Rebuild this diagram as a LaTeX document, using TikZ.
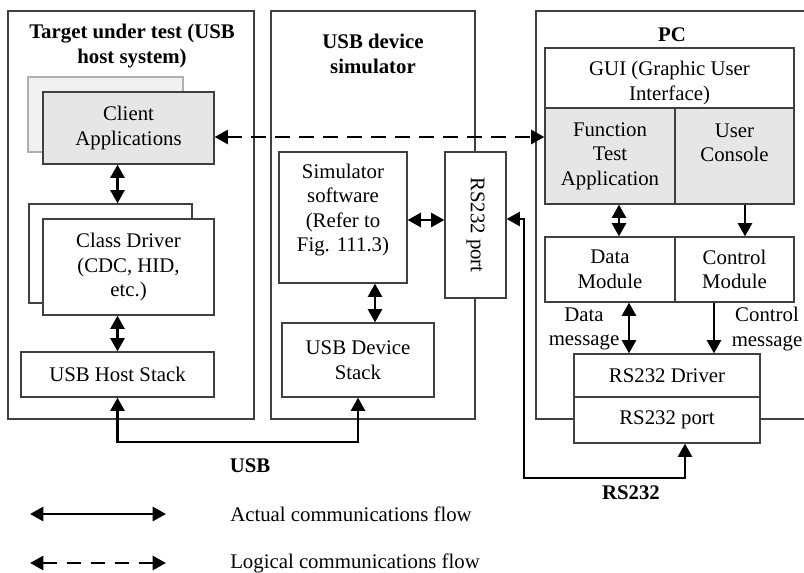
\documentclass[tikz,border=0pt]{standalone}
\usepackage{fontspec}
\setmainfont{Liberation Serif}
\usetikzlibrary{arrows.meta}
\definecolor{linegray}{HTML}{404040}
\definecolor{boxgray}{HTML}{E6E6E6}
\definecolor{shadowline}{HTML}{B0B0B0}
\definecolor{shadowfill}{HTML}{F1F1F1}
\begin{document}
\begin{tikzpicture}[x=0.75pt,y=-0.75pt,
 font=\fontsize{15.6}{18.4}\selectfont,
 corners/.style args={#1/#2/#3/#4}{minimum width={(#3-#1)*0.75pt}, minimum height={(#4-#2)*0.75pt}, at={({(#1+#3)/2},{(#2+#4)/2})}},
 frame/.style={draw=linegray, line width=0.9pt},
 box/.style={draw=linegray, line width=0.9pt, fill=white, inner sep=0pt, align=center},
 graybox/.style={box, fill=boxgray},
 shadowbox/.style={draw=shadowline, line width=0.9pt, fill=shadowfill, inner sep=0pt},
 lbl/.style={inner sep=0pt, align=center},
 title/.style={lbl, font=\fontsize{15.6}{18.4}\selectfont\bfseries},
 flow/.style={line width=2.1pt, draw=black, {Triangle[length=10pt,width=10.5pt]}-{Triangle[length=10pt,width=10.5pt]}},
 oneway/.style={line width=2.1pt, draw=black, -{Triangle[length=10pt,width=10.5pt]}},
 logical/.style={flow, dash pattern=on 11pt off 7pt},
]
\useasboundingbox (0,0) rectangle (804,572);

% containers
\node[box, fill=none, corners=8/11/254/419] (tgt) {};
\node[title] (tgtt) at (132,46) {Target under test (USB\\host system)};
\node[box, fill=none, corners=271/11/475/419] (simf) {};
\node[title] (simt) at (373,54) {USB device\\simulator};
\draw[frame] (804,11) -- (536,11) -- (536,419) -- (804,419);
\node[title] (pct) at (672,35) {PC};

% target
\node[shadowbox, corners=28/77/183/152] (cash) {};
\node[graybox, corners=43/92/214/164] (ca) {Client\\Applications};
\node[box, corners=29/204/192/303] (cdsh) {};
\node[box, corners=43/219/214/315] (cd) {Class Driver\\(CDC, HID,\\etc.)};
\node[box, corners=21/352/214/397] (hs) {USB Host Stack};

% simulator
\node[box, corners=279/152/407/283] (ss) {};
\node[lbl] (sstxt) at (343,210) {Simulator\\software\\(Refer to\\Fig. 111.3)};
\node[box, corners=445/152/506/298] (rsp) {};
\node[lbl, rotate=-90] (rsptxt) at (rsp.center) {RS232 port};
\node[box, corners=282/323/434/397] (uds) {USB Device\\Stack};

% PC
\node[box, corners=545/48/794/108] (gui) {};
\node[lbl] (guitxt) at (669.5,83) {GUI (Graphic User\\Interface)};
\node[graybox, corners=545/108/675/204] (fta) {Function\\Test\\Application};
\node[graybox, corners=675/108/794/204] (uc) {};
\node[lbl] (uctxt) at (734.5,143) {User\\Console};
\node[box, corners=545/237/675/302] (dm) {Data\\Module};
\node[box, corners=675/237/794/302] (cm) {Control\\Module};
\node[box, corners=574/354/760/397] (drv) {RS232 Driver};
\node[box, corners=574/397/760/443] (pcp) {RS232 port};

\node[lbl] (dmsg) at (584,329) {Data\\message};
\node[lbl] (cmsg) at (767,329) {Control\\message};
\node[title] (usbl) at (250,466) {USB};
\node[title] (rsl) at (631,493) {RS232};

% connectors
\coordinate (dy) at (0,137);
\draw[logical] (ca.east |- dy) -- (fta.west |- dy);
\draw[flow] (hs.north |- ca.south) -- (hs.north |- cdsh.north);
\draw[flow] (cd.south -| hs.north) -- (hs.north);
\coordinate (usbY) at (0,442);
\draw[flow] (hs.south) -- (hs.south |- usbY) -| (uds.south);
\coordinate (sx) at (375,0);
\draw[flow] (ss.south -| sx) -- (uds.north -| sx);
\coordinate (py) at (0,220);
\draw[flow] (ss.east |- py) -- (rsp.west |- py);
\coordinate (ry) at (0,219);
\coordinate (rx) at (524,478);
\coordinate (px) at (685,0);
\draw[flow] (rsp.east |- ry) -| (rx) -| (pcp.south -| px);
\coordinate (fx) at (619,0);
\draw[flow] (fta.south -| fx) -- (dm.north -| fx);
\coordinate (ux) at (745,0);
\draw[oneway] (uc.south -| ux) -- (cm.north -| ux);
\coordinate (dx) at (629,0);
\draw[flow] (dm.south -| dx) -- (drv.north -| dx);
\coordinate (cx) at (714,0);
\draw[oneway] (cm.south -| cx) -- (drv.north -| cx);

% legend
\coordinate (a1) at (30,514);
\coordinate (a2) at (166,514);
\coordinate (b1) at (30,563);
\coordinate (b2) at (166,563);
\draw[flow] (a1) -- (a2);
\draw[logical] (b1) -- (b2);
\node[lbl, anchor=west] (actual) at (230,514) {Actual communications flow};
\node[lbl, anchor=west] (logical) at (230,563) {Logical communications flow};
\end{tikzpicture}
\end{document}
